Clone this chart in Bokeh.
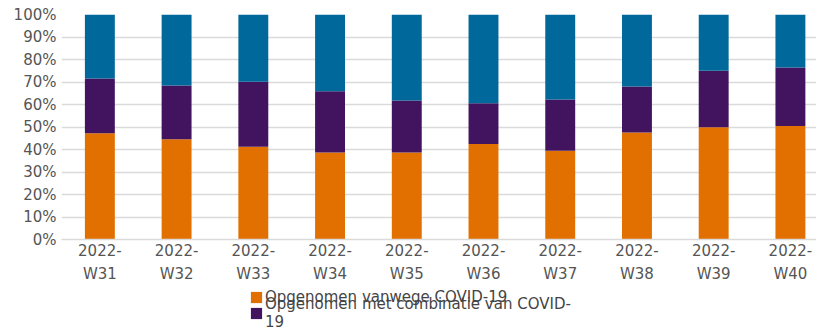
from bokeh.plotting import figure
from bokeh.layouts import column
from bokeh.models import Range1d, FixedTicker, Legend, LegendItem
from bokeh.embed import file_html
from bokeh.resources import INLINE

weeks = ["2022-W31", "2022-W32", "2022-W33", "2022-W34", "2022-W35",
         "2022-W36", "2022-W37", "2022-W38", "2022-W39", "2022-W40"]
vanwege = [47.2, 44.6, 41.2, 38.7, 38.7, 42.5, 39.4, 47.6, 49.9, 50.4]
combinatie = [24.4, 23.8, 28.9, 27.2, 23.1, 18.1, 22.8, 20.4, 25.1, 26.0]
overig = [28.4, 31.6, 29.9, 34.1, 38.2, 39.4, 37.8, 32.0, 25.0, 23.6]
series_names = ["Opgenomen vanwege COVID-19",
                "Opgenomen met combinatie van COVID-\n19",
                "Overig"]
colors = ["#E17000", "#42145F", "#01689B"]
y_ticks = list(range(0, 101, 10))

xs = list(range(len(weeks)))
p = figure(width=816, height=286, output_backend="svg",
           toolbar_location=None,
           x_range=Range1d(-0.5, 9.34), y_range=Range1d(0, 100),
           min_border_left=61, min_border_right=0, min_border_top=14,
           min_border_bottom=47)
p.outline_line_color = None

data = dict(x=xs, a=vanwege, b=combinatie, c=overig, week=weeks)
rs = p.vbar_stack(["a", "b", "c"], x="x", width=0.39, source=data,
                  color=colors, line_color=None)

p.xgrid.grid_line_color = None
p.ygrid.grid_line_color = "#dadada"
p.ygrid.grid_line_width = 1.5
p.ygrid.ticker = FixedTicker(ticks=y_ticks)

p.yaxis.ticker = FixedTicker(ticks=y_ticks)
p.yaxis.major_label_overrides = {t: f"{t}%" for t in y_ticks}
p.yaxis.axis_line_color = None
p.yaxis.major_tick_line_color = None
p.yaxis.minor_tick_line_color = None
p.yaxis.major_tick_out = 0
p.yaxis.major_tick_in = 0
p.yaxis.major_label_standoff = 5
p.yaxis.major_label_text_font = "DejaVu Sans"
p.yaxis.major_label_text_font_size = "15px"
p.yaxis.major_label_text_color = "#555555"

p.xaxis.ticker = FixedTicker(ticks=xs)
p.xaxis.major_label_overrides = {i: w.replace("-", "-\n") for i, w in enumerate(weeks)}
p.xaxis.axis_line_color = "#dadada"
p.xaxis.axis_line_width = 1.5
p.xaxis.major_tick_line_color = None
p.xaxis.minor_tick_line_color = None
p.xaxis.major_tick_out = 0
p.xaxis.major_tick_in = 0
p.xaxis.major_label_standoff = 2
p.xaxis.major_label_text_font = "DejaVu Sans"
p.xaxis.major_label_text_font_size = "15px"
p.xaxis.major_label_text_color = "#555555"
p.xaxis.major_label_text_line_height = 1.33

# legend strip below the chart (hidden proxy renderers carry the swatches)
pl = figure(width=816, height=45, output_backend="svg", toolbar_location=None,
            x_range=Range1d(0, 1), y_range=Range1d(0, 1),
            x_axis_location=None, y_axis_location=None,
            min_border_left=0, min_border_right=0, min_border_top=0,
            min_border_bottom=0)
pl.grid.visible = False
pl.outline_line_color = None
sw0 = pl.vbar(x=xs, top=vanwege, width=0.39, color=colors[0], line_color=None,
              visible=False)
sw1 = pl.vbar(x=xs, top=combinatie, width=0.39, color=colors[1], line_color=None,
              visible=False)

def make_legend(item, loc):
    return Legend(items=[item], location=loc, orientation="vertical",
                  padding=0, margin=0, spacing=0, border_line_color=None,
                  background_fill_alpha=0, glyph_width=14, glyph_height=14,
                  label_standoff=2, label_height=11,
                  label_text_font="DejaVu Sans", label_text_font_size="15px",
                  label_text_color="#444444", label_text_line_height=0.9)

pl.add_layout(make_legend(LegendItem(label=series_names[0], renderers=[sw0]),
                          (188, 25)), "center")
pl.add_layout(make_legend(LegendItem(label=series_names[1], renderers=[sw1]),
                          (188, 0)), "center")

open("out.html", "w").write(file_html(column(p, pl, spacing=0), INLINE))
